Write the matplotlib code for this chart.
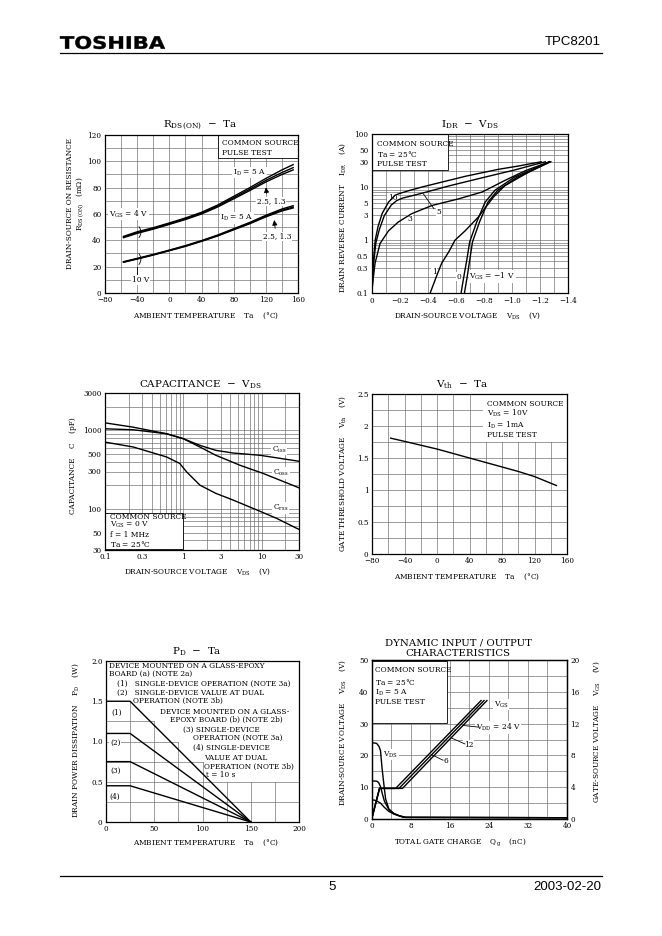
import matplotlib
matplotlib.use('Agg')
import matplotlib.pyplot as plt
from matplotlib.ticker import MultipleLocator, FixedLocator, NullFormatter, LogLocator
from matplotlib.patches import Rectangle, PathPatch
from matplotlib.textpath import TextPath
from matplotlib.font_manager import FontProperties
from matplotlib.transforms import Affine2D, IdentityTransform

# ---------------- DATA ----------------
# Chart 1: RDS(ON) - Ta
ta_rds = [-57, -40, -20, 0, 20, 40, 60, 80, 100, 120, 140, 154]
rds_4v_5a = [43.0, 46.5, 49.6, 53.2, 57.0, 61.3, 66.8, 73.4, 80.0, 87.0, 93.5, 97.5]
rds_4v_25a = [42.5, 45.8, 49.0, 52.6, 56.3, 60.6, 66.0, 72.4, 78.8, 85.5, 91.5, 95.2]
rds_4v_13a = [42.0, 45.3, 48.5, 52.1, 55.8, 60.0, 65.3, 71.5, 77.8, 84.3, 90.0, 93.5]
rds_10v_5a = [23.8, 26.3, 29.3, 32.6, 36.0, 39.8, 44.0, 48.8, 53.6, 59.0, 63.8, 66.3]
rds_10v_25a = [23.5, 26.0, 29.0, 32.3, 35.7, 39.5, 43.6, 48.3, 53.0, 58.3, 62.9, 65.3]
rds_10v_13a = [23.3, 25.8, 28.8, 32.1, 35.4, 39.2, 43.3, 48.0, 52.6, 57.8, 62.3, 64.6]

# Chart 2: IDR - VDS
vds_g10 = [0, -0.012, -0.025, -0.045, -0.075, -0.12, -0.166, -0.2, -0.28, -0.37, -0.5, -0.67, -0.9, -1.05, -1.21]
idr_g10 = [0.1, 0.4, 1.0, 1.8, 3.2, 5.2, 7.0, 7.6, 8.8, 10.2, 12.4, 16.0, 21.5, 25.0, 30]
vds_g5 = [0, -0.015, -0.03, -0.055, -0.09, -0.14, -0.18, -0.22, -0.3, -0.37, -0.55, -0.79, -1.02, -1.24]
idr_g5 = [0.1, 0.4, 0.9, 1.6, 2.9, 4.6, 5.6, 6.2, 7.0, 7.8, 10.5, 15.0, 21.0, 30]
vds_g3 = [0, -0.012, -0.024, -0.06, -0.12, -0.19, -0.286, -0.43, -0.62, -0.79, -0.95, -1.1, -1.27]
idr_g3 = [0.1, 0.2, 0.37, 0.87, 1.5, 2.2, 3.16, 4.5, 6.0, 8.1, 13.3, 20.5, 30]
vds_g1 = [-0.417, -0.46, -0.5, -0.55, -0.595, -0.667, -0.76, -0.87, -0.95, -1.1, -1.27]
idr_g1 = [0.1, 0.2, 0.37, 0.6, 1.0, 1.5, 2.7, 6.5, 10.6, 17.8, 30]
vds_g0 = [-0.638, -0.66, -0.679, -0.7, -0.75, -0.81, -0.88, -1.02, -1.27]
idr_g0 = [0.1, 0.22, 0.42, 0.93, 2.2, 5.2, 8.7, 15.4, 30]
vds_gm1 = [-0.662, -0.684, -0.70, -0.72, -0.77, -0.83, -0.90, -1.04, -1.28]
idr_gm1 = [0.1, 0.22, 0.42, 0.93, 2.2, 5.2, 8.7, 15.4, 30]

# Chart 3: Capacitance - VDS
vds_cap = [0.1, 0.23, 0.61, 1.0, 1.63, 2.6, 4.3, 9.5, 27.7, 30]
c_iss = [1250, 1100, 908, 785, 646, 558, 516, 483, 410, 405]
vds_coss = [0.1, 0.23, 0.61, 1.0, 1.63, 2.6, 5.3, 10.5, 27.7, 30]
c_oss = [1050, 1020, 908, 785, 615, 483, 360, 283, 192, 186]
vds_crss = [0.1, 0.23, 0.61, 0.9, 1.1, 1.63, 2.6, 4.3, 8.6, 15.5, 27.7, 30]
c_rss = [711, 615, 460, 380, 297, 201, 158, 130, 97.5, 76, 57, 55]

# Chart 4: Vth - Ta
ta_vth = [-57, -40, -20, 0, 20, 40, 60, 80, 100, 120, 147]
vth = [1.81, 1.76, 1.70, 1.64, 1.57, 1.50, 1.43, 1.36, 1.29, 1.21, 1.07]

# Chart 5: PD - Ta
ta_pd = [0, 25, 150]
pd_1 = [1.5, 1.5, 0]
pd_2 = [1.1, 1.1, 0]
pd_3 = [0.75, 0.75, 0]
pd_4 = [0.45, 0.45, 0]

# Chart 6: Dynamic input/output
qg_vds24 = [0, 1.0, 1.5, 1.8, 2.1, 2.5, 2.85, 3.5, 4.6, 6.4, 40]
vds_24 = [24, 23.8, 22.8, 21.5, 16.3, 10.8, 6.3, 3.2, 1.55, 0.55, 0.4]
qg_vds12 = [0, 1.0, 1.4, 1.8, 2.2, 2.6, 3.5, 4.5, 5.7, 7.0, 40]
vds_12 = [12, 11.9, 11.5, 10.2, 7.8, 5.6, 3.0, 1.8, 1.0, 0.5, 0.4]
qg_vds6 = [0, 0.5, 1.0, 1.8, 2.5, 3.5, 4.5, 5.7, 7.0, 40]
vds_6 = [6, 5.95, 5.7, 5.0, 3.8, 2.4, 1.6, 1.0, 0.5, 0.4]
qg_vgs6 = [0, 1.6, 4.9, 22.4]
qg_vgs12 = [0, 1.6, 5.6, 23.0]
qg_vgs24 = [0, 1.6, 6.3, 23.6]
vgs_curve = [0, 3.85, 3.85, 14.9]

# ---------------- STYLE ----------------
plt.rcParams['font.family'] = ['DejaVu Serif']
plt.rcParams['mathtext.fontset'] = 'dejavuserif'

W, H = 662, 936
fig = plt.figure(figsize=(W / 100, H / 100), dpi=100)

TK = 5.2
LB = 5.3
AN = 5.4
GRID = dict(color='#666666', linewidth=0.45)
LINE = dict(color='black', linewidth=1.0, zorder=4.5)


def make_ax(l, r, t, b):
    ax = fig.add_axes([l / W, 1 - b / H, (r - l) / W, (b - t) / H])
    for s in ax.spines.values():
        s.set_linewidth(0.9)
        s.set_zorder(5)
    ax.tick_params(which='both', length=0, pad=2.5, labelsize=TK)
    ax.set_axisbelow(True)
    return ax


def ftext(x, y, s, **kw):
    kw.setdefault('ha', 'center')
    kw.setdefault('va', 'center')
    fig.text(x / W, 1 - y / H, s, **kw)


def wbox(ax, x0, y0, x1, y1, edge=True):
    r = Rectangle((x0, y0), x1 - x0, y1 - y0, facecolor='white',
                  edgecolor='black' if edge else 'none', linewidth=0.6, zorder=2)
    ax.add_patch(r)


def txt(ax, x, y, s, size=AN, **kw):
    kw.setdefault('ha', 'left')
    kw.setdefault('va', 'center')
    ax.text(x, y, s, fontsize=size, zorder=4, **kw)


WB = dict(boxstyle='square,pad=0.1', facecolor='white', edgecolor='none')

# ---------------- HEADER / FOOTER ----------------
tp = TextPath((0, 0), 'TOSHIBA', size=1,
              prop=FontProperties(family='DejaVu Sans', weight='bold'))
ext = tp.get_extents()
sx = (165 - 60) / ext.width
sy = 13.0 / ext.height
logo_tr = Affine2D().translate(-ext.x0, -ext.y0).scale(sx, sy).translate(60, H - 49)
fig.add_artist(PathPatch(tp, transform=logo_tr + IdentityTransform(),
                         facecolor='black', edgecolor='black', linewidth=0.3))
ftext(601, 42, 'TPC8201', ha='right', fontsize=9.5, family='Liberation Sans')
fig.add_artist(plt.Line2D([60 / W, 602 / W], [1 - 53 / H, 1 - 53 / H],
                          color='black', linewidth=0.9))
fig.add_artist(plt.Line2D([60 / W, 602 / W], [1 - 876 / H, 1 - 876 / H],
                          color='black', linewidth=0.9))
ftext(332, 887, '5', fontsize=9.5, family='Liberation Sans')
ftext(601, 887, '2003-02-20', ha='right', fontsize=9.5, family='Liberation Sans')

# ---------------- CHART 1 ----------------
ax1 = make_ax(105, 298, 135, 293)
ax1.set_xlim(-80, 160)
ax1.set_ylim(0, 120)
ax1.set_xticks(range(-80, 161, 40))
ax1.set_yticks(range(0, 121, 20))
ax1.xaxis.set_minor_locator(MultipleLocator(20))
ax1.yaxis.set_minor_locator(MultipleLocator(10))
ax1.grid(which='both', **GRID)
for ys in (rds_4v_5a, rds_4v_25a, rds_4v_13a, rds_10v_5a, rds_10v_25a, rds_10v_13a):
    ax1.plot(ta_rds, ys, **LINE)
wbox(ax1, 60, 102.6, 165, 125)
txt(ax1, 66, 114, 'COMMON SOURCE')
txt(ax1, 66, 106.5, 'PULSE TEST')
txt(ax1, 100, 91.5, r'I$_\mathrm{D}$ = 5 A', ha='center', bbox=WB)
txt(ax1, 127, 69.5, '2.5, 1.3', ha='center', bbox=WB)
ax1.annotate('', xy=(119.5, 82.3), xytext=(121.6, 73.5),
             arrowprops=dict(arrowstyle='-|>,head_length=0.3,head_width=0.15',
                             color='black', lw=0.6), zorder=4)
txt(ax1, -51, 60, r'V$_\mathrm{GS}$ = 4 V', ha='center', bbox=WB)
txt(ax1, 84, 57, r'I$_\mathrm{D}$ = 5 A', ha='center', bbox=WB)
txt(ax1, 134, 43, '2.5, 1.3', ha='center', bbox=WB)
ax1.annotate('', xy=(130, 57.5), xytext=(132, 47),
             arrowprops=dict(arrowstyle='-|>,head_length=0.3,head_width=0.15',
                             color='black', lw=0.6), zorder=4)
ax1.annotate('', xy=(-40, 52), xytext=(-40, 40.5),
             arrowprops=dict(arrowstyle='-', color='black', lw=0.6,
                             connectionstyle='arc3,rad=0.5'))
ax1.annotate('', xy=(-40, 31.5), xytext=(-40, 20),
             arrowprops=dict(arrowstyle='-', color='black', lw=0.6,
                             connectionstyle='arc3,rad=0.5'))
ax1.plot([-40, -40], [20, 12.5], color='black', lw=0.6)
txt(ax1, -36, 10, '10 V', ha='center', bbox=WB)
ftext(200, 125, r'R$_\mathrm{DS\,(ON)}$  $-$  Ta', fontsize=7.5)
ftext(70, 203.5, 'DRAIN-SOURCE ON RESISTANCE', rotation=90, fontsize=LB)
ftext(80, 203.5, r'R$_\mathrm{DS\,(ON)}$   (m$\Omega$)', rotation=90, fontsize=LB)
ftext(206, 316, r'AMBIENT TEMPERATURE    Ta    ($\degree$C)', fontsize=LB)

# ---------------- CHART 2 ----------------
ax2 = make_ax(371.7, 567.7, 134, 293.3)
ax2.set_yscale('log')
ax2.set_xlim(0, -1.4)
ax2.set_ylim(0.1, 100)
xt2 = [0, -0.2, -0.4, -0.6, -0.8, -1.0, -1.2, -1.4]
ax2.set_xticks(xt2)
ax2.set_xticklabels(['0'] + ['\u2212%.1f' % (-v) for v in xt2[1:]])
ax2.xaxis.set_minor_locator(MultipleLocator(0.1))
yt2 = [0.1, 0.3, 0.5, 1, 3, 5, 10, 30, 50, 100]
ax2.yaxis.set_major_locator(FixedLocator(yt2))
ax2.set_yticklabels(['0.1', '0.3', '0.5', '1', '3', '5', '10', '30', '50', '100'])
ax2.yaxis.set_minor_locator(LogLocator(subs=range(1, 10)))
ax2.yaxis.set_minor_formatter(NullFormatter())
ax2.grid(which='both', **GRID)
for xs, ys in ((vds_g10, idr_g10), (vds_g5, idr_g5), (vds_g3, idr_g3),
               (vds_g1, idr_g1), (vds_g0, idr_g0), (vds_gm1, idr_gm1)):
    ax2.plot(xs, ys, **LINE)
wbox(ax2, 0.005, 20.8, -0.547, 99)
txt(ax2, -0.036, 66, 'COMMON SOURCE')
txt(ax2, -0.036, 42.6, r'Ta = 25$\degree$C')
txt(ax2, -0.036, 27.7, 'PULSE TEST')
txt(ax2, -0.15, 6.3, '10', ha='center', bbox=WB)
txt(ax2, -0.48, 3.4, '5', ha='center', bbox=WB)
ax2.plot([-0.37, -0.445], [7.4, 3.9], color='black', lw=0.6, zorder=4)
txt(ax2, -0.273, 2.5, '3', ha='center', bbox=WB)
txt(ax2, -0.445, 0.255, '1', ha='center', bbox=WB)
txt(ax2, -0.624, 0.205, '0', ha='center', bbox=WB)
txt(ax2, -0.86, 0.205, r'V$_\mathrm{GS}$ = $-$1 V', ha='center', bbox=WB)
ftext(470, 125, r'I$_\mathrm{DR}$  $-$  V$_\mathrm{DS}$', fontsize=7.5)
ftext(343, 218, r'DRAIN REVERSE CURRENT    I$_\mathrm{DR}$    (A)', rotation=90, fontsize=LB)
ftext(468, 316, r'DRAIN-SOURCE VOLTAGE    V$_\mathrm{DS}$    (V)', fontsize=LB)

# ---------------- CHART 3 ----------------
ax3 = make_ax(105, 299, 393, 550)
ax3.set_xscale('log')
ax3.set_yscale('log')
ax3.set_xlim(0.1, 30)
ax3.set_ylim(30, 3000)
xt3 = [0.1, 0.3, 1, 3, 10, 30]
ax3.xaxis.set_major_locator(FixedLocator(xt3))
ax3.set_xticklabels(['0.1', '0.3', '1', '3', '10', '30'])
yt3 = [30, 50, 100, 300, 500, 1000, 3000]
ax3.yaxis.set_major_locator(FixedLocator(yt3))
ax3.set_yticklabels([str(v) for v in yt3])
for a in (ax3.xaxis, ax3.yaxis):
    a.set_minor_locator(LogLocator(subs=range(1, 10)))
    a.set_minor_formatter(NullFormatter())
ax3.grid(which='both', **GRID)
ax3.plot(vds_cap, c_iss, **LINE)
ax3.plot(vds_coss, c_oss, **LINE)
ax3.plot(vds_crss, c_rss, **LINE)
txt(ax3, 13.5, 570, r'C$_\mathrm{iss}$', ha='left', bbox=WB)
txt(ax3, 14, 288, r'C$_\mathrm{oss}$', ha='left', bbox=WB)
txt(ax3, 14, 102, r'C$_\mathrm{rss}$', ha='left', bbox=WB)
wbox(ax3, 0.1, 30.5, 1.0, 90)
txt(ax3, 0.116, 78.5, 'COMMON SOURCE')
txt(ax3, 0.116, 62, r'V$_\mathrm{GS}$ = 0 V')
txt(ax3, 0.116, 46, 'f = 1 MHz')
txt(ax3, 0.116, 36, r'Ta = 25$\degree$C')
ftext(200, 385, r'CAPACITANCE  $-$  V$_\mathrm{DS}$', fontsize=7.5)
ftext(73, 466, r'CAPACITANCE    C    (pF)', rotation=90, fontsize=LB)
ftext(198, 572, r'DRAIN-SOURCE VOLTAGE    V$_\mathrm{DS}$    (V)', fontsize=LB)

# ---------------- CHART 4 ----------------
ax4 = make_ax(372, 567, 394, 554)
ax4.set_xlim(-80, 160)
ax4.set_ylim(0, 2.5)
ax4.set_xticks(range(-80, 161, 40))
ax4.set_yticks([0, 0.5, 1, 1.5, 2, 2.5])
ax4.set_yticklabels(['0', '0.5', '1', '1.5', '2', '2.5'])
ax4.xaxis.set_minor_locator(MultipleLocator(20))
ax4.yaxis.set_minor_locator(MultipleLocator(0.25))
ax4.grid(which='both', **GRID)
ax4.plot(ta_vth, vth, **LINE)
wbox(ax4, 57, 1.75, 159.5, 2.49, edge=False)
txt(ax4, 61, 2.35, 'COMMON SOURCE')
txt(ax4, 61, 2.19, r'V$_\mathrm{DS}$ = 10V')
txt(ax4, 61, 2.01, r'I$_\mathrm{D}$ = 1mA')
txt(ax4, 61, 1.86, 'PULSE TEST')
ftext(462, 385, r'V$_\mathrm{th}$  $-$  Ta', fontsize=7.5)
ftext(343, 474, r'GATE THRESHOLD VOLTAGE    V$_\mathrm{th}$    (V)', rotation=90, fontsize=LB)
ftext(467, 577, r'AMBIENT TEMPERATURE    Ta    ($\degree$C)', fontsize=LB)

# ---------------- CHART 5 ----------------
ax5 = make_ax(106, 299, 661, 822)
ax5.set_xlim(0, 200)
ax5.set_ylim(0, 2.0)
ax5.set_xticks([0, 50, 100, 150, 200])
ax5.set_yticks([0, 0.5, 1.0, 1.5, 2.0])
ax5.set_yticklabels(['0', '0.5', '1.0', '1.5', '2.0'])
for yv, xe in ((0.25, 200), (0.5, 200), (0.75, 100), (1.0, 75), (1.25, 50)):
    ax5.plot([0, xe], [yv, yv], zorder=1, **GRID)
for xv, ye in ((25, 1.5), (50, 1.25), (75, 1.0), (100, 0.75), (125, 0.5),
               (150, 0.5), (175, 0.5)):
    ax5.plot([xv, xv], [0, ye], zorder=1, **GRID)
for ys in (pd_1, pd_2, pd_3, pd_4):
    ax5.plot(ta_pd, ys, **LINE)
S5 = 5.3
txt(ax5, 3.4, 1.94, 'DEVICE MOUNTED ON A GLASS-EPOXY', size=S5)
txt(ax5, 3.4, 1.84, 'BOARD (a) (NOTE 2a)', size=S5)
txt(ax5, 11.7, 1.72, '(1)   SINGLE-DEVICE OPERATION (NOTE 3a)', size=S5)
txt(ax5, 11.7, 1.61, '(2)   SINGLE-DEVICE VALUE AT DUAL', size=S5)
txt(ax5, 28, 1.50, 'OPERATION (NOTE 3b)', size=S5)
txt(ax5, 56, 1.37, 'DEVICE MOUNTED ON A GLASS-', size=S5)
txt(ax5, 66, 1.27, 'EPOXY BOARD (b) (NOTE 2b)', size=S5)
txt(ax5, 79.5, 1.15, '(3) SINGLE-DEVICE', size=S5)
txt(ax5, 90.5, 1.04, 'OPERATION (NOTE 3a)', size=S5)
txt(ax5, 90, 0.92, '(4) SINGLE-DEVICE', size=S5)
txt(ax5, 101.5, 0.80, 'VALUE AT DUAL', size=S5)
txt(ax5, 101.5, 0.69, 'OPERATION (NOTE 3b)', size=S5)
txt(ax5, 104, 0.58, 't = 10 s', size=S5)
txt(ax5, 11, 1.35, '(1)', ha='center', size=S5)
txt(ax5, 9.5, 0.98, '(2)', ha='center', size=S5, bbox=WB)
txt(ax5, 9.5, 0.64, '(3)', ha='center', size=S5)
txt(ax5, 9.5, 0.31, '(4)', ha='center', size=S5)
ftext(197, 652, r'P$_\mathrm{D}$  $-$  Ta', fontsize=7.5)
ftext(76, 740, r'DRAIN POWER DISSIPATION    P$_\mathrm{D}$    (W)', rotation=90, fontsize=LB)
ftext(206, 843, r'AMBIENT TEMPERATURE    Ta    ($\degree$C)', fontsize=LB)

# ---------------- CHART 6 ----------------
ax6 = make_ax(371.7, 567, 660, 819)
ax6.set_xlim(0, 40)
ax6.set_ylim(0, 50)
ax6.set_xticks(range(0, 41, 8))
ax6.set_yticks(range(0, 51, 10))
ax6.xaxis.set_minor_locator(MultipleLocator(4))
ax6.yaxis.set_minor_locator(MultipleLocator(5))
ax6.grid(which='both', **GRID)
ax6.plot(qg_vds24, vds_24, **LINE)
ax6.plot(qg_vds12, vds_12, **LINE)
ax6.plot(qg_vds6, vds_6, **LINE)
ax6r = ax6.twinx()
ax6r.set_ylim(0, 20)
ax6r.set_yticks(range(0, 21, 4))
ax6r.tick_params(length=0, pad=2.5, labelsize=TK)
for s in ax6r.spines.values():
    s.set_linewidth(0.9)
ax6r.plot(qg_vgs6, vgs_curve, **LINE)
ax6r.plot(qg_vgs12, vgs_curve, **LINE)
ax6r.plot(qg_vgs24, vgs_curve, **LINE)
wbox(ax6, 0.1, 30.3, 15.5, 49.8)
txt(ax6, 0.7, 47, 'COMMON SOURCE')
txt(ax6, 0.7, 43.2, r'Ta = 25$\degree$C')
txt(ax6, 0.7, 39.8, r'I$_\mathrm{D}$ = 5 A')
txt(ax6, 0.7, 36.9, 'PULSE TEST')
txt(ax6, 26.5, 36, r'V$_\mathrm{GS}$', ha='center', bbox=WB)
txt(ax6, 25.9, 28.8, r'V$_\mathrm{DD}$ = 24 V', ha='center', bbox=WB)
ax6.plot([18.8, 21.9], [29.4, 28.9], color='black', lw=0.6, zorder=4)
txt(ax6, 19.9, 23.3, '12', ha='center', bbox=WB)
ax6.plot([16.3, 19.1], [25.5, 23.6], color='black', lw=0.6, zorder=4)
txt(ax6, 15.1, 18.2, '6', ha='center', bbox=WB)
ax6.plot([12.3, 14.6], [20.2, 18.5], color='black', lw=0.6, zorder=4)
txt(ax6, 3.8, 20.3, r'V$_\mathrm{DS}$', ha='center', bbox=WB)
ftext(458, 642.5, 'DYNAMIC INPUT / OUTPUT', fontsize=7.3)
ftext(458, 653.5, 'CHARACTERISTICS', fontsize=7.3)
ftext(343, 732, r'DRAIN-SOURCE VOLTAGE    V$_\mathrm{DS}$    (V)', rotation=90, fontsize=LB)
ftext(597, 732, r'GATE-SOURCE VOLTAGE    V$_\mathrm{GS}$    (V)', rotation=90, fontsize=LB)
ftext(460, 842, r'TOTAL GATE CHARGE    Q$_\mathrm{g}$    (nC)', fontsize=LB)

fig.savefig('out.png', dpi=100)
